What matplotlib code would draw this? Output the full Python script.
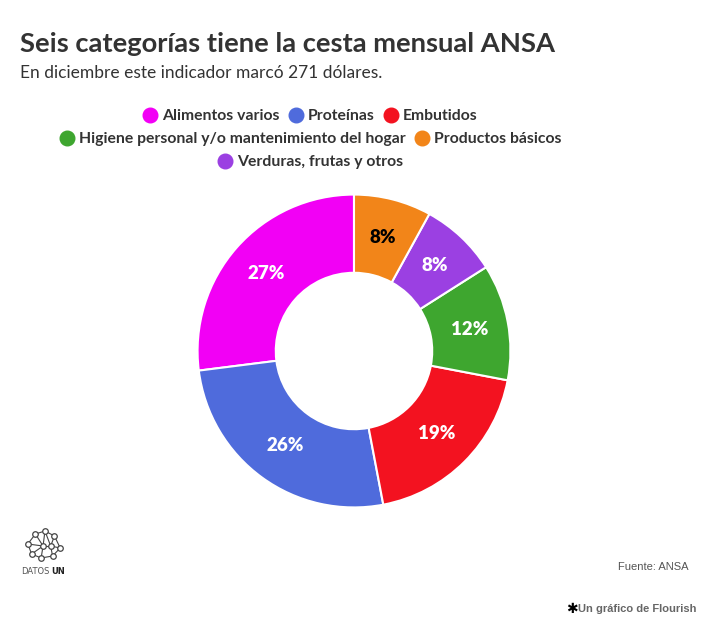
import matplotlib.pyplot as plt
from matplotlib.lines import Line2D

# data
categories = ["Alimentos varios", "Proteínas", "Embutidos",
              "Higiene personal y/o mantenimiento del hogar",
              "Productos básicos", "Verduras, frutas y otros"]
shares = [27, 26, 19, 12, 8, 8]
colors = ["#f200f5", "#4f6bdc", "#f31220", "#3ea62f", "#f28519", "#9b40e2"]
label_colors = ["white", "white", "white", "white", "black", "white"]

# pie goes counter-clockwise from 12 o'clock
pie_order = [0, 1, 2, 3, 5, 4]

W, H = 726, 625
fig = plt.figure(figsize=(W / 100, H / 100), dpi=100)

fig.text(20 / W, 1 - 44 / H, "Seis categorías tiene la cesta mensual ANSA",
         fontsize=19.7, fontweight="bold", family="Lato", color="#333333", va="center")
fig.text(20 / W, 1 - 73 / H, "En diciembre este indicador marcó 271 dólares.",
         fontsize=12.5, family="Lato", color="#333333", va="center")

# legend, three centered rows
rows = [[0, 1, 2], [3, 4], [5]]
row_y = [116, 139, 162]
for idx, y in zip(rows, row_y):
    handles = [Line2D([], [], marker="o", ls="", ms=10.5, color=colors[i]) for i in idx]
    leg = fig.legend(handles, [categories[i] for i in idx], loc="center",
                     bbox_to_anchor=(310 / W, 1 - y / H), ncol=len(idx),
                     frameon=False, handletextpad=0.25, columnspacing=0.55,
                     handlelength=1.0, borderaxespad=0, borderpad=0,
                     prop={"family": "Lato", "weight": "bold", "size": 11.3})
    for t in leg.get_texts():
        t.set_color("#333333")

# donut
cx, cy, r = 354, 351, 158
ax = fig.add_axes([(cx - r) / W, (H - cy - r) / H, 2 * r / W, 2 * r / H])
vals = [shares[i] for i in pie_order]
wedges, texts, autotexts = ax.pie(
    vals, colors=[colors[i] for i in pie_order], startangle=90, counterclock=True,
    radius=1, autopct="%d%%", pctdistance=0.75,
    wedgeprops=dict(width=0.5, edgecolor="white", linewidth=1.5),
    textprops=dict(fontsize=13.5, fontweight="heavy", family="Lato"))
for t, i in zip(autotexts, pie_order):
    t.set_color(label_colors[i])
ax.set_xlim(-1.01, 1.01)
ax.set_ylim(-1.01, 1.01)

# footer
fig.text(688 / W, 1 - 567 / H, "Fuente: ANSA", fontsize=8, color="#555555",
         family="Liberation Sans", ha="right", va="center")
fig.text(697 / W, 1 - 609 / H, "Un gráfico de Flourish", fontsize=8, color="#666666",
         family="Liberation Sans", fontweight="bold", ha="right", va="center")
fig.text(572 / W, 1 - 609 / H, "✱", fontsize=10, color="black",
         family="DejaVu Sans", ha="center", va="center")

# logo: small network
lx = fig.add_axes([24 / W, 1 - 562 / H, 40 / W, 34 / H])
nodes = [(4, 18), (12, 28), (22, 31), (32, 26), (38, 14), (30, 6), (18, 4),
         (8, 8), (20, 16), (28, 16)]
edges = [(0, 1), (1, 2), (2, 3), (3, 4), (4, 5), (5, 6), (6, 7), (7, 0),
         (1, 8), (8, 2), (8, 6), (8, 9), (9, 3), (9, 5), (9, 4), (0, 8), (2, 9), (7, 8)]
for a, b in edges:
    lx.plot([nodes[a][0], nodes[b][0]], [nodes[a][1], nodes[b][1]], color="#444444", lw=0.8)
lx.scatter([n[0] for n in nodes], [n[1] for n in nodes], s=16, facecolor="white",
           edgecolor="#444444", linewidth=0.9, zorder=3)
lx.set_xlim(0, 42)
lx.set_ylim(0, 34)
lx.axis("off")
fig.text(50 / W, 1 - 571 / H, "DATOS", fontsize=6, color="#555555",
         family="DejaVu Sans", ha="right", va="center")
fig.text(51 / W, 1 - 571 / H, "UN", fontsize=6, color="#222222",
         family="DejaVu Sans", fontweight="bold", ha="left", va="center")

fig.savefig("out.png", dpi=100)
